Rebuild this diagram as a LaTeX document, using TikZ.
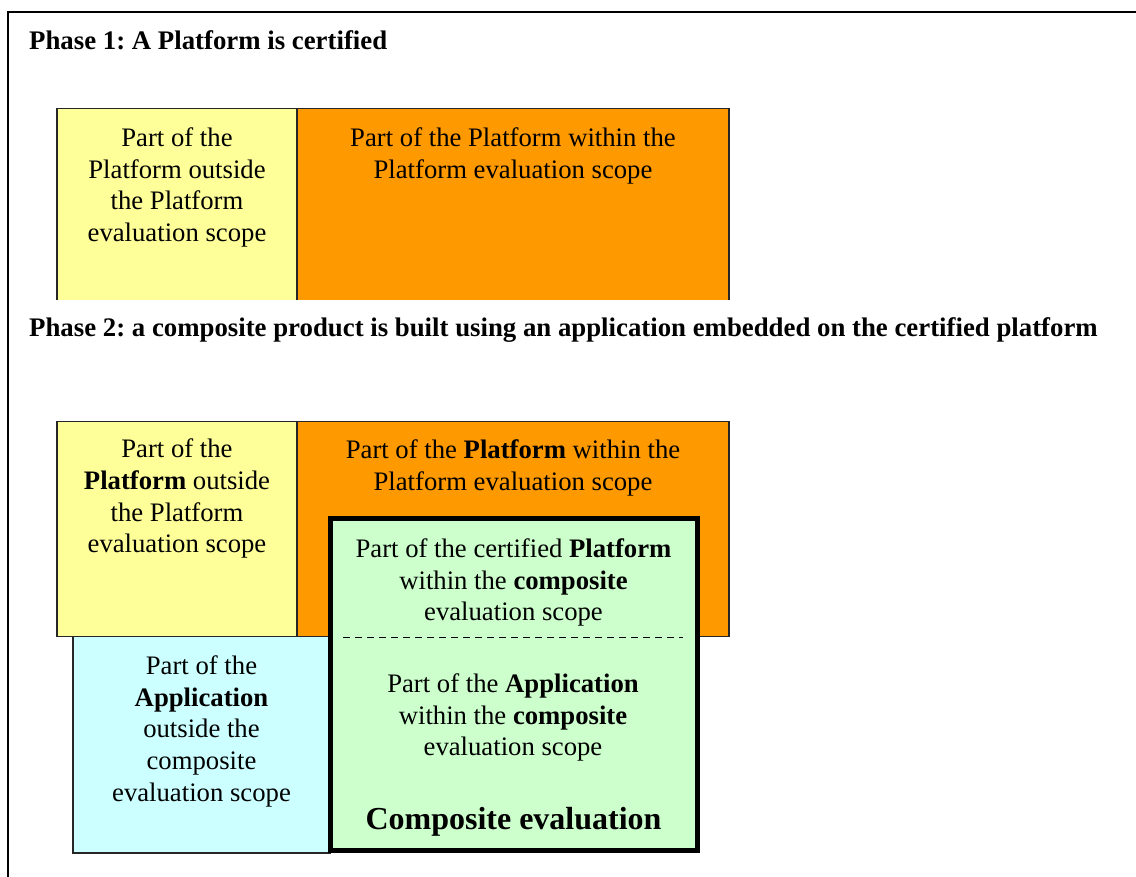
\documentclass[tikz,border=0pt]{standalone}
\usepackage{fontspec}
\setmainfont{Liberation Serif}
\frenchspacing
\usetikzlibrary{positioning}

\definecolor{platyellow}{HTML}{FFFF99}
\definecolor{platorange}{HTML}{FF9900}
\definecolor{compgreen}{HTML}{CCFFCC}
\definecolor{appcyan}{HTML}{CCFFFF}

\tikzset{
    area/.style={rectangle, inner sep=0pt, outer sep=0pt},
    edge/.style={draw=black!85, line width=1.3pt},
    lbl/.style={font=\fontsize{26.7}{31.7}\selectfont, align=center, inner sep=0pt},
    title/.style={font=\fontsize{26.8}{31.7}\selectfont\bfseries, inner sep=0pt, anchor=base west}
}

\begin{document}
\begin{tikzpicture}[x=1pt, y=-1pt]
    \useasboundingbox (0,0) rectangle (1136,877);
    \draw[line width=1.5pt] (8,12) rectangle (1170,910);

    % phase 1
    \node[title] (ph1) at (29,49.3) {Phase 1: A Platform is certified};
    \node[area, fill=platyellow, minimum width=240pt, minimum height=191.5pt] (ylwA) at (177,204.25) {};
    \node[area, fill=platorange, minimum width=432pt, minimum height=191.5pt] (orgA) at (513,204.25) {};
    \draw[edge] (ylwA.south west) -- (ylwA.north west) -- (ylwA.north east) -- (ylwA.south east);
    \draw[edge] (orgA.north west) -- (orgA.north east) -- (orgA.south east);

    \node[lbl, below=19pt of ylwA.north] (ylwAtxt) {Part of the\\Platform outside\\the Platform\\evaluation scope};
    \node[lbl, below=19pt of orgA.north] (orgAtxt) {Part of the Platform within the\\Platform evaluation scope};

    % phase 2
    \node[title] (ph2) at (29,336.7) {Phase 2: a composite product is built using an application embedded on the certified platform};
    \node[area, edge, fill=platyellow, minimum width=240pt, minimum height=214.8pt] (ylwB) at (177,529.1) {};
    \node[area, edge, fill=platorange, minimum width=432pt, minimum height=214.8pt] (orgB) at (513,529.1) {};
    \node[area, edge, fill=appcyan, minimum width=257pt, minimum height=216.5pt] (app) at (201.5,744.75) {};
    \node[area, draw, line width=5pt, fill=compgreen, minimum width=367pt, minimum height=332pt] (comp) at (513.5,684) {};

    \node[lbl, below=17pt of ylwB.north] (ylwBtxt) {Part of the\\\textbf{Platform} outside\\the Platform\\evaluation scope};
    \node[lbl, below=18pt of orgB.north] (orgBtxt) {Part of the \textbf{Platform} within the\\Platform evaluation scope};
    \node[lbl, below=19pt of app.north] (apptxt) {Part of the\\\textbf{Application}\\outside the\\composite\\evaluation scope};

    \coordinate (dashL) at (343,637);
    \coordinate (dashR) at (683,637);
    \coordinate (dashM) at (513,637);
    \draw[line width=1pt, dash pattern=on 7pt off 5pt] (dashL) -- (dashR);

    \node[lbl, below=20.5pt of comp.north] (platin) {Part of the certified \textbf{Platform}\\within the \textbf{composite}\\evaluation scope};
    \node[lbl, below=36.5pt of dashM] (appin) {Part of the \textbf{Application}\\within the \textbf{composite}\\evaluation scope};
    \node[lbl, font=\fontsize{32}{38}\selectfont\bfseries, above=13pt of comp.south] (compname) {Composite evaluation};
\end{tikzpicture}
\end{document}
